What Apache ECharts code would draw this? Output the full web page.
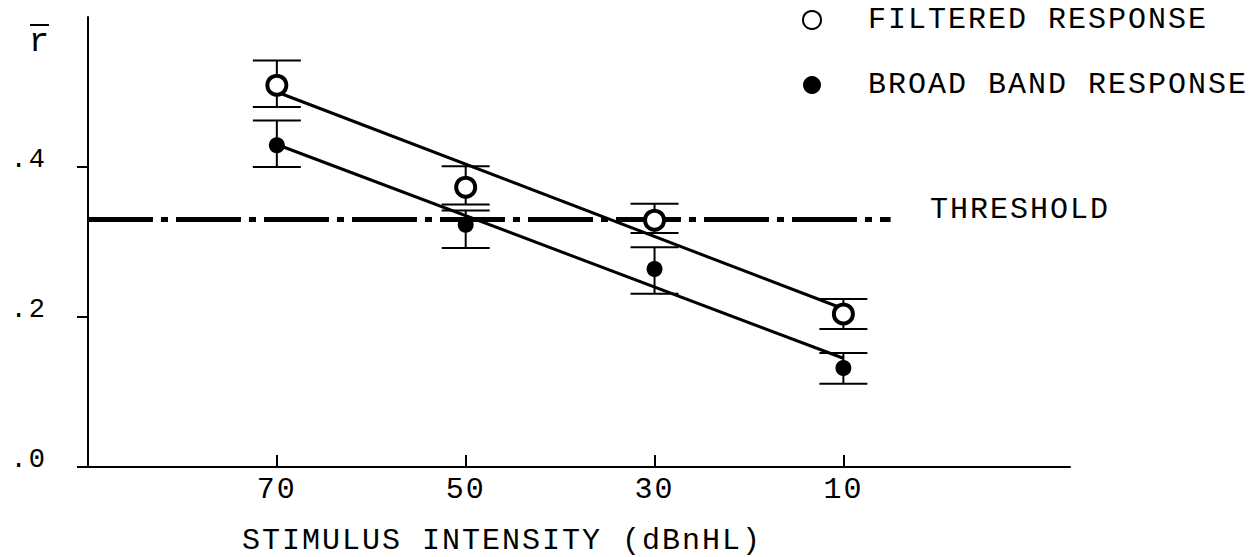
<!DOCTYPE html>
<html>
<head>
<meta charset="utf-8">
<script src="https://cdn.jsdelivr.net/npm/echarts@6/dist/echarts.min.js"></script>
<style>
  html, body { margin: 0; padding: 0; background: #fff; }
  #chart { width: 1249px; height: 557px; }
  /* typewriter-like spacing for all chart text */
  #chart text { letter-spacing: 2px; }
</style>
</head>
<body>
<div id="chart"></div>
<script>
// Stimulus intensities (dBnHL) and mean r values with error-bar limits
const intensities = [70, 50, 30, 10];

const filteredMean  = [0.509, 0.373, 0.329, 0.204];
const filteredUpper = [0.542, 0.401, 0.351, 0.224];
const filteredLower = [0.480, 0.350, 0.312, 0.184];

const broadMean  = [0.429, 0.323, 0.264, 0.132];
const broadUpper = [0.462, 0.342, 0.293, 0.152];
const broadLower = [0.400, 0.292, 0.231, 0.111];

// Fitted regression lines, evaluated at the end intensities
const fitEnds     = [70, 10];
const filteredFit = [0.500, 0.211];
const broadFit    = [0.430, 0.145];

// Detection threshold and the intensity span it is drawn across
const threshold     = 0.33;
const thresholdSpan = [90, 5];

const xTicks = [70, 50, 30, 10];
const yTicks = [0, 0.2, 0.4];

const FONT = 'Liberation Mono';

const pairs = (xs, ys) => xs.map((x, i) => [x, ys[i]]);
const triples = (xs, lo, hi) => xs.map((x, i) => [x, lo[i], hi[i]]);

function errorBar(params, api) {
  const x = api.value(0);
  const top = api.coord([x, api.value(2)]);
  const bot = api.coord([x, api.value(1)]);
  const half = 24;
  const st = { stroke: '#000', lineWidth: 2 };
  return {
    type: 'group',
    children: [
      { type: 'line', shape: { x1: top[0], y1: top[1], x2: bot[0], y2: bot[1] }, style: st },
      { type: 'line', shape: { x1: top[0] - half, y1: top[1], x2: top[0] + half, y2: top[1] }, style: st },
      { type: 'line', shape: { x1: bot[0] - half, y1: bot[1], x2: bot[0] + half, y2: bot[1] }, style: st }
    ]
  };
}

const chart = echarts.init(document.getElementById('chart'), null, { renderer: 'svg' });

chart.setOption({
  animation: false,
  backgroundColor: '#fff',
  textStyle: { fontFamily: FONT, color: '#000' },
  grid: { left: 88, right: 179, top: 17, bottom: 90, containLabel: false, outerBoundsMode: 'none' },
  xAxis: {
    type: 'value',
    min: -14, max: 90,
    inverse: true,
    axisLine: { show: true, onZero: false, lineStyle: { color: '#000', width: 2 } },
    axisTick: { show: true, inside: true, length: 12, customValues: xTicks, lineStyle: { color: '#000', width: 2 } },
    axisLabel: { show: true, customValues: xTicks, margin: 8, fontFamily: FONT, fontSize: 30, color: '#000' },
    splitLine: { show: false }
  },
  yAxis: {
    type: 'value',
    min: 0, max: 0.6,
    axisLine: { show: true, onZero: false, lineStyle: { color: '#000', width: 2 } },
    axisTick: { show: true, inside: false, length: 11, customValues: yTicks, lineStyle: { color: '#000', width: 2 } },
    axisLabel: {
      show: true, customValues: yTicks, margin: 41,
      fontFamily: FONT, fontSize: 27, color: '#000',
      verticalAlign: 'bottom', lineHeight: 14,
      formatter: v => v.toFixed(1).replace(/^0/, '')
    },
    splitLine: { show: false }
  },
  legend: {
    orient: 'vertical',
    left: 802, top: 3, padding: 0,
    itemWidth: 102, itemHeight: 18, itemGap: 31,
    selectedMode: false,
    textStyle: { fontFamily: FONT, fontSize: 30, color: '#000', lineHeight: 34 },
    data: ['FILTERED RESPONSE', 'BROAD BAND RESPONSE']
  },
  series: [
    {
      name: 'threshold', type: 'line', z: 1,
      data: [[thresholdSpan[0], threshold], [thresholdSpan[1], threshold]],
      showSymbol: false, silent: true,
      lineStyle: { color: '#000', width: 5, type: [65, 8, 7, 8], cap: 'butt' }
    },
    {
      name: 'filtered fit', type: 'line', z: 2,
      data: pairs(fitEnds, filteredFit), showSymbol: false, silent: true,
      lineStyle: { color: '#000', width: 3 }
    },
    {
      name: 'broad fit', type: 'line', z: 2,
      data: pairs(fitEnds, broadFit), showSymbol: false, silent: true,
      lineStyle: { color: '#000', width: 3 }
    },
    {
      name: 'filtered error', type: 'custom', z: 3,
      renderItem: errorBar, data: triples(intensities, filteredLower, filteredUpper)
    },
    {
      name: 'broad error', type: 'custom', z: 3,
      renderItem: errorBar, data: triples(intensities, broadLower, broadUpper)
    },
    {
      name: 'FILTERED RESPONSE', type: 'scatter', z: 5,
      data: pairs(intensities, filteredMean),
      symbol: 'circle', symbolSize: 19,
      itemStyle: { color: '#fff', borderColor: '#000', borderWidth: 4, opacity: 1 }
    },
    {
      name: 'BROAD BAND RESPONSE', type: 'scatter', z: 5,
      data: pairs(intensities, broadMean),
      symbol: 'circle', symbolSize: 16,
      itemStyle: { color: '#000', opacity: 1 }
    }
  ],
  graphic: [
    {
      type: 'text', x: 502, y: 541,
      style: { text: 'STIMULUS INTENSITY (dBnHL)', font: '30px "Liberation Mono"', fill: '#000', textAlign: 'center', textVerticalAlign: 'middle' }
    },
    {
      type: 'text', x: 930, y: 210,
      style: { text: 'THRESHOLD', font: '30px "Liberation Mono"', fill: '#000', textAlign: 'left', textVerticalAlign: 'middle' }
    },
    {
      type: 'text', x: 40, y: 42,
      style: { text: 'r', font: '34px "Liberation Mono"', fill: '#000', textAlign: 'center', textVerticalAlign: 'middle' }
    },
    {
      type: 'line', shape: { x1: 30, y1: 25, x2: 49, y2: 25 },
      style: { stroke: '#000', lineWidth: 2 }
    }
  ]
});
</script>
</body>
</html>
